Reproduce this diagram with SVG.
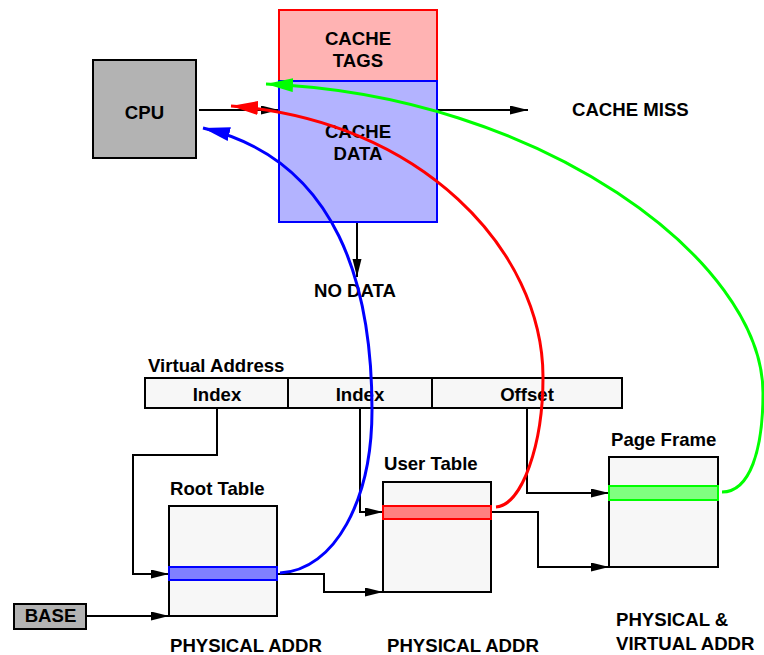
<svg xmlns="http://www.w3.org/2000/svg" width="764" height="655" viewBox="0 0 764 655">
  <style>
    text { font-family: "Liberation Sans", Arial, sans-serif; font-weight: bold; font-size: 18.6px; fill: #000; }
    .mid { text-anchor: middle; }
    .box { fill: #f7f7f7; stroke: #000; stroke-width: 2; }
    .grey { fill: #b3b3b3; stroke: #000; stroke-width: 2; }
    .wire { fill: none; stroke: #000; stroke-width: 2; }
    .curve { fill: none; stroke-width: 3; }
  </style>
  <defs>
    <marker id="ah-black" markerUnits="userSpaceOnUse" markerWidth="19" markerHeight="10" refX="18" refY="4.5" orient="auto">
      <path d="M0,0 L18,4.5 L0,9 z" fill="#000"/>
    </marker>
    <marker id="ah-blue" markerUnits="userSpaceOnUse" markerWidth="28" markerHeight="15" refX="27" refY="7" orient="auto">
      <path d="M0,0 L27,7 L0,14 z" fill="#0000ff"/>
    </marker>
    <marker id="ah-red" markerUnits="userSpaceOnUse" markerWidth="28" markerHeight="15" refX="27" refY="7" orient="auto">
      <path d="M0,0 L27,7 L0,14 z" fill="#ff0000"/>
    </marker>
    <marker id="ah-green" markerUnits="userSpaceOnUse" markerWidth="28" markerHeight="15" refX="27" refY="7" orient="auto">
      <path d="M0,0 L27,7 L0,14 z" fill="#00ff00"/>
    </marker>
  </defs>

  <!-- black connectors -->
  <g id="connectors">
    <path class="wire" d="M199,110 H279" marker-end="url(#ah-black)"/>
    <path class="wire" d="M437,110 H528" marker-end="url(#ah-black)"/>
    <path class="wire" d="M357,222 V277" marker-end="url(#ah-black)"/>
    <path class="wire" d="M217,408 V455 H133 V574 H169" marker-end="url(#ah-black)"/>
    <path class="wire" d="M86,616 H169" marker-end="url(#ah-black)"/>
    <path class="wire" d="M277,574 H324 V592 H383" marker-end="url(#ah-black)"/>
    <path class="wire" d="M360,408 V512 H383" marker-end="url(#ah-black)"/>
    <path class="wire" d="M491,512 H538 V567 H609" marker-end="url(#ah-black)"/>
    <path class="wire" d="M527,408 V493 H609" marker-end="url(#ah-black)"/>
  </g>

  <!-- processor -->
  <g id="cpu">
    <rect class="grey" x="93" y="60" width="103" height="98"/>
    <text class="mid" x="144.5" y="119">CPU</text>
  </g>

  <!-- cache -->
  <g id="cache-tags">
    <rect x="279" y="10" width="158" height="71" fill="#ffb3b3" stroke="#ff0000" stroke-width="2"/>
    <text class="mid" x="358" y="45">CACHE</text>
    <text class="mid" x="358" y="67">TAGS</text>
  </g>
  <g id="cache-data">
    <rect x="279" y="81" width="158" height="141" fill="#b3b3ff" stroke="#0000ff" stroke-width="2"/>
    <text class="mid" x="358" y="138">CACHE</text>
    <text class="mid" x="358" y="160">DATA</text>
  </g>

  <g id="cache-miss">
    <text x="572" y="116">CACHE MISS</text>
  </g>
  <g id="no-data">
    <text x="314" y="297">NO DATA</text>
  </g>

  <!-- virtual address fields -->
  <g id="virtual-address">
    <text x="148" y="371.5">Virtual Address</text>
    <rect class="box" x="145" y="378" width="143" height="30"/>
    <rect class="box" x="288" y="378" width="144" height="30"/>
    <rect class="box" x="432" y="378" width="190" height="30"/>
    <text class="mid" x="217" y="400.5">Index</text>
    <text class="mid" x="360" y="400.5">Index</text>
    <text class="mid" x="527" y="400.5">Offset</text>
  </g>

  <!-- page tables -->
  <g id="root-table">
    <text x="170" y="495">Root Table</text>
    <rect class="box" x="169" y="506" width="108" height="110"/>
    <rect x="169" y="567" width="108" height="13" fill="#8080ff" stroke="#0000ff" stroke-width="2"/>
    <text x="170" y="651.5">PHYSICAL ADDR</text>
  </g>
  <g id="user-table">
    <text x="384" y="470">User Table</text>
    <rect class="box" x="383" y="482" width="108" height="110"/>
    <rect x="383" y="506" width="108" height="13" fill="#ff8080" stroke="#ff0000" stroke-width="2"/>
    <text x="387" y="651.5">PHYSICAL ADDR</text>
  </g>
  <g id="page-frame">
    <text x="611" y="446">Page Frame</text>
    <rect class="box" x="609" y="457" width="109" height="110"/>
    <rect x="609" y="486" width="109" height="14" fill="#80ff80" stroke="#00ff00" stroke-width="2"/>
    <text x="616" y="626">PHYSICAL &amp;</text>
    <text x="616" y="650">VIRTUAL ADDR</text>
  </g>

  <g id="base">
    <rect class="grey" x="14" y="604" width="72" height="25"/>
    <text class="mid" x="50.5" y="621.5">BASE</text>
  </g>

  <!-- coloured return paths -->
  <g id="return-paths">
    <path class="curve" stroke="#0000ff" d="M280,573 C335,570 372,500 372,410 C372,290 340,160 203,128" marker-end="url(#ah-blue)"/>
    <path class="curve" stroke="#ff0000" d="M496,507 C522,505 543,445 543,377 C543,250 420,120 231,106" marker-end="url(#ah-red)"/>
    <path class="curve" stroke="#00ff00" d="M722,492 C750,492 763,450 763,393 C763,260 540,95 266,84" marker-end="url(#ah-green)"/>
  </g>
</svg>
